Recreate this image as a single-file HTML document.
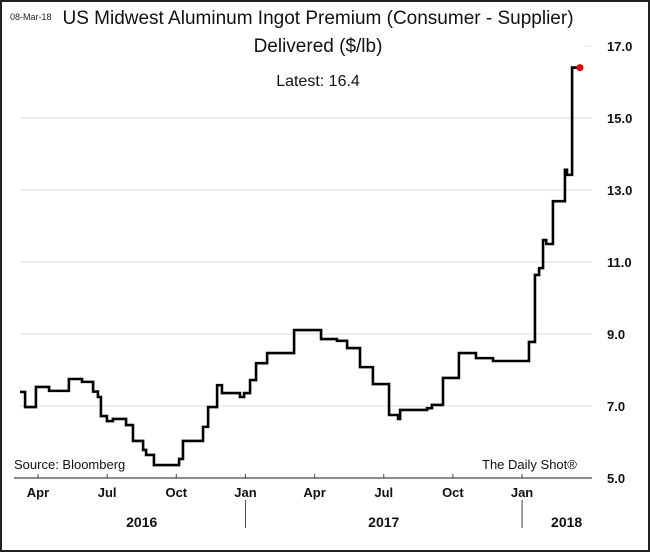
<!DOCTYPE html>
<html><head><meta charset="utf-8"><style>
body{margin:0;background:#fff}
svg{display:block;font-family:"Liberation Sans",sans-serif}
</style></head><body>
<svg id="chart" width="650" height="552" viewBox="0 0 650 552">
<rect x="1" y="1" width="648" height="550" fill="#fff" stroke="#222" stroke-width="2"/>
<text x="10" y="20" font-size="9" fill="#222">08-Mar-18</text>
<text x="318" y="24" font-size="19" text-anchor="middle" fill="#111">US Midwest Aluminum Ingot Premium (Consumer - Supplier)</text>
<text x="318" y="52" font-size="19" text-anchor="middle" fill="#111">Delivered ($/lb)</text>
<text x="318" y="86" font-size="16" text-anchor="middle" fill="#111">Latest:  16.4</text>
<g id="grid"></g><g id="yt"></g><g id="xt"></g>
<path id="line" fill="none" stroke="#000" stroke-width="2.6" stroke-linejoin="miter"/>
<text x="14" y="469" font-size="13" fill="#111">Source: Bloomberg</text>
<text x="482" y="469" font-size="13" fill="#111">The Daily Shot®</text>
</svg>
<script>
const months=[2.22,2.44,2.91,3.48,4.34,4.91,5.39,5.60,5.73,5.99,6.25,6.82,7.12,7.56,7.69,8.03,9.12,9.29,10.16,10.38,10.77,10.98,11.76,11.94,12.20,12.46,12.94,14.11,15.28,15.97,16.41,16.97,17.53,18.23,18.62,18.71,19.88,20.09,20.57,21.26,22.00,22.74,24.30,24.56,24.74,24.91,25.05,25.34,25.86,25.95,26.17,26.38];
const values=[7.39,6.97,7.53,7.42,7.75,7.67,7.4,7.25,6.72,6.58,6.64,6.47,6.03,5.78,5.64,5.36,5.53,6.03,6.42,6.97,7.58,7.36,7.25,7.36,7.72,8.19,8.47,9.11,8.86,8.81,8.61,8.08,7.61,6.75,6.64,6.89,6.94,7.03,7.78,8.47,8.33,8.25,8.78,10.64,10.83,11.61,11.5,12.69,13.56,13.42,16.4,16.4];
const yTicks=[5,7,9,11,13,15,17];
const xTickMonths=[3,6,9,12,15,18,21,24];
const xTickLabels=["Apr","Jul","Oct","Jan","Apr","Jul","Oct","Jan"];
const years=["2016","2017","2018"];
const yearCenters=[7.5,18,25.5];
const yearSeps=[12,24];
const X=m=>38+(m-3)*23.05, Y=v=>478-36*(v-5);
const ns="http://www.w3.org/2000/svg";
function mk(t,a,p){const e=document.createElementNS(ns,t);for(const k in a)e.setAttribute(k,a[k]);p.appendChild(e);return e;}
const g=document.getElementById('grid'),yt=document.getElementById('yt'),xt=document.getElementById('xt');
yTicks.forEach(v=>{
 if(v>5){const l=mk('line',{x1:v==17?585:20,x2:592,y1:Y(v),y2:Y(v),stroke:'#ddd','stroke-width':1},g);
 
 }
 const t=mk('text',{x:607,y:Y(v)+5,'font-size':13,'font-weight':'bold',fill:'#111'},yt);t.textContent=v.toFixed(1);
 
 
});
const ax=mk('line',{x1:14,x2:592,y1:478,y2:478,stroke:'#444','stroke-width':1.3},xt);


xTickMonths.forEach((m,i)=>{
 mk('line',{x1:X(m),x2:X(m),y1:474,y2:478,stroke:'#444'},xt);
 const t=mk('text',{x:X(m),y:497,'font-size':13,'font-weight':'bold','text-anchor':'middle',fill:'#111'},xt);t.textContent=xTickLabels[i];
 
 
});
yearSeps.forEach(m=>{const l=mk('line',{x1:X(m),x2:X(m),y1:500,y2:528,stroke:'#444'},xt);
 
 });
years.forEach((y,i)=>{const t=mk('text',{x:X(yearCenters[i])+(i==2?10:0),y:527,'font-size':14,'font-weight':'bold','text-anchor':'middle',fill:'#111'},xt);t.textContent=y;
 
 });
let d='M'+X(months[0])+' '+Y(values[0]);
for(let i=1;i<months.length;i++){d+=' H'+X(months[i])+' V'+Y(values[i]);}
document.getElementById('line').setAttribute('d',d);
const n=months.length-1;
const dot=mk('circle',{cx:X(months[n])+3,cy:Y(values[n]),r:3.5,fill:'#e00'},document.getElementById('chart'));


</script>
</body></html>
